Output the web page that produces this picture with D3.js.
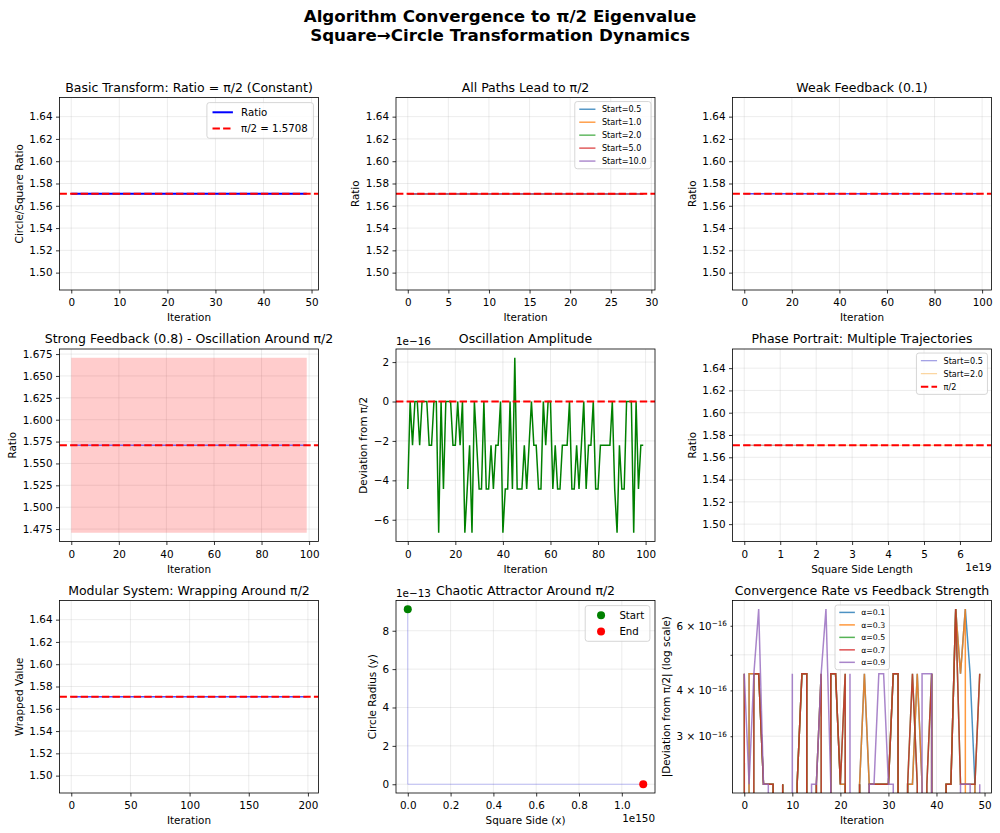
<!DOCTYPE html>
<html>
<head>
<meta charset="utf-8">
<script src="https://cdn.jsdelivr.net/npm/d3@7"></script>
<style>
body { margin: 0; background: #fff; }
svg text { font-family: "DejaVu Sans", sans-serif; fill: #000; }
</style>
</head>
<body>
<svg id="fig" width="1000" height="833"></svg>
<script>
/* ---- data ---- */
var PI_HALF = 1.5707963267948966;

var ratioTicks = [1.50, 1.52, 1.54, 1.56, 1.58, 1.60, 1.62, 1.64];
var strongTicks = [1.475, 1.500, 1.525, 1.550, 1.575, 1.600, 1.625, 1.650, 1.675];

// panel 1
var basicRatio = new Array(50).fill(PI_HALF);
// panel 2
var pathStarts = ["Start=0.5", "Start=1.0", "Start=2.0", "Start=5.0", "Start=10.0"];
var pathRatio = new Array(30).fill(PI_HALF);
// panel 3
var weakRatio = new Array(100).fill(PI_HALF);
// panel 4
var strongRatio = new Array(100).fill(PI_HALF);
var strongLow = new Array(100).fill(1.4708);
var strongHigh = new Array(100).fill(1.6708);
// panel 5 : deviation from pi/2, in units of 1e-16
var oscDev = [
	-4.44, 0, -2.22, 0, 0, -2.22, 0, 0, 0, -2.22,
	-2.22, 0, 0, -6.66, 0, -4.44, 0, 0, 0, -2.22,
	-2.22, 0, -2.22, 0, -6.66, -4.44, -2.22, -6.66, 0, -2.22,
	-4.44, -4.44, 0, -4.44, -4.44, -2.22, -4.44, -2.22, -2.22, 0,
	-6.66, -4.44, -4.44, 0, -4.44, 2.22, -4.44, -4.44, -4.44, -2.22,
	-4.44, -2.22, 0, -2.22, -2.22, -4.44, -4.44, 0, -2.22, 0,
	0, -4.44, -2.22, -4.44, -4.44, -2.22, -2.22, -2.22, 0, -4.44,
	-4.44, -2.22, -4.44, -2.22, 0, -4.44, -2.22, -2.22, 0, -4.44,
	-4.44, -2.22, -2.22, -2.22, -2.22, -2.22, 0, -4.44, -6.66, -2.22,
	-4.44, -4.44, 0, 0, 0, -6.66, 0, -4.44, -2.22, -2.22
];
var oscTicks = [-6, -4, -2, 0, 2];
// panel 6
var phaseLabels = ["Start=0.5", "Start=2.0"];
var phaseSide05 = [0.5, 7.9e5, 1.2e12, 1.9e18, 1.64e19];
var phaseSide20 = [2.0, 3.1e6, 4.9e12, 7.8e18, 6.55e19];
var phaseRatio = [PI_HALF, PI_HALF, PI_HALF, PI_HALF, PI_HALF];
var phaseTicks = [0, 1, 2, 3, 4, 5, 6];
// panel 7
var wrapped = new Array(200).fill(PI_HALF);
// panel 8
var chaosX = [0, 4.1e-3, 2.2e12, 8.7e45, 3.5e98, 1.1e150];
var chaosY = [9.12e-13, 1.5e-20, 3.0e-41, 0, 0, 0];
var chaosXTicks = [0, 0.2, 0.4, 0.6, 0.8, 1.0];
var chaosYTicks = [0, 2, 4, 6, 8];
// panel 9 : |deviation| in units of 1e-16 (0 = exact)
var alphaLabels = ["α=0.1", "α=0.3", "α=0.5", "α=0.7", "α=0.9"];
var conv01 = [0, 4.44, 4.44, 4.44, 2.22, 2.22, 2.22, 0, 2.22, 0, 0, 2.22, 4.44, 4.44, 0, 2.22, 0, 0, 4.44, 4.44, 2.22, 2.22, 0, 0, 2.22, 4.44, 2.22, 2.22, 2.22, 2.22, 2.22, 4.44, 4.44, 0, 2.22, 2.22, 4.44, 2.22, 0, 4.44, 0, 0, 2.22, 2.22, 6.66, 4.44, 6.66, 4.44, 2.22, 0];
var conv03 = [0, 4.44, 4.44, 4.44, 2.22, 2.22, 2.22, 0, 2.22, 0, 0, 2.22, 4.44, 4.44, 0, 2.22, 0, 0, 4.44, 4.44, 2.22, 2.22, 0, 0, 2.22, 4.44, 2.22, 2.22, 2.22, 2.22, 2.22, 4.44, 4.44, 0, 2.22, 2.22, 4.44, 2.22, 0, 4.44, 0, 0, 2.22, 2.22, 6.66, 4.44, 6.66, 0, 2.22, 0];
var conv05 = [4.44, 0, 4.44, 4.44, 2.22, 2.22, 2.22, 0, 2.22, 0, 0, 2.22, 4.44, 4.44, 0, 2.22, 4.44, 0, 4.44, 4.44, 2.22, 4.44, 0, 0, 2.22, 0, 2.22, 2.22, 2.22, 2.22, 2.22, 4.44, 4.44, 0, 2.22, 4.44, 2.22, 0, 2.22, 4.44, 0, 0, 2.22, 2.22, 6.66, 2.22, 2.22, 2.22, 2.22, 4.44];
var conv07 = [4.44, 0, 4.44, 4.44, 2.22, 2.22, 2.22, 0, 2.22, 0, 0, 2.22, 4.44, 4.44, 0, 2.22, 4.44, 0, 4.44, 4.44, 2.22, 4.44, 0, 0, 2.22, 0, 2.22, 2.22, 2.22, 2.22, 2.22, 4.44, 4.44, 0, 2.22, 4.44, 2.22, 0, 2.22, 4.44, 0, 0, 2.22, 2.22, 6.66, 2.22, 2.22, 2.22, 2.22, 4.44];
var conv09 = [4.44, 2.22, 4.44, 6.66, 2.22, 2.22, 0, 0, 0, 0, 4.44, 0, 0, 0, 2.22, 2.22, 4.44, 6.66, 2.22, 0, 0, 0, 4.44, 0, 0, 0, 2.22, 2.22, 4.44, 4.44, 2.22, 2.22, 0, 0, 0, 0, 0, 4.44, 4.44, 4.44, 0, 0, 0, 0, 0, 2.22, 2.22, 2.22, 0, 2.22];
var convTicks = [3, 4, 5, 6];
var convTickLabels = ["3", "4", "", "6"];

/* ---- layout ---- */
var W = 259, H = 192.5;
var colX = [59.5, 396, 732.5];
var rowY = [97.5, 349, 600.5];
var tickFs = 10.4, titleFs = 12.5;
var tab = ["#1f77b4", "#ff7f0e", "#2ca02c", "#d62728", "#9467bd"];
var ratioDom = [1.48441, 1.65719];

var svg = d3.select("#fig");

/* suptitle */
svg.append("text").attr("x", 500).attr("y", 22).attr("text-anchor", "middle")
	.attr("font-size", 16.7).attr("font-weight", "bold").text("Algorithm Convergence to π/2 Eigenvalue");
svg.append("text").attr("x", 500).attr("y", 41).attr("text-anchor", "middle")
	.attr("font-size", 16.7).attr("font-weight", "bold").text("Square→Circle Transformation Dynamics");

/* one subplot: grid, axes, frame, texts */
function panel(col, row, o) {
	var g = svg.append("g").attr("transform", `translate(${colX[col]}, ${rowY[row]})`);
	var x = o.x.range([0, W]);
	var y = o.y.range([H, 0]);
	var id = "clip" + col + row;
	g.append("clipPath").attr("id", id).append("rect").attr("width", W).attr("height", H);

	var grid = g.append("g").attr("stroke", "#b0b0b0").attr("stroke-opacity", 0.3).attr("stroke-width", 0.8);
	grid.selectAll(".gx").data(o.xTicks).join("line").attr("class", "gx")
		.attr("x1", d => x(d)).attr("x2", d => x(d)).attr("y1", 0).attr("y2", H);
	grid.selectAll(".gy").data(o.yTicks).join("line").attr("class", "gy")
		.attr("y1", d => y(d)).attr("y2", d => y(d)).attr("x1", 0).attr("x2", W);

	var plot = g.append("g").attr("clip-path", `url(#${id})`);

	var xa = g.append("g").attr("transform", `translate(0, ${H})`)
		.call(d3.axisBottom(x).tickValues(o.xTicks).tickFormat(o.xFmt || d3.format("d"))
			.tickSize(3.5).tickPadding(5.5).tickSizeOuter(0));
	var ya = g.append("g")
		.call(d3.axisLeft(y).tickValues(o.yTicks).tickFormat(o.yFmt || d3.format(".2f"))
			.tickSize(o.yTickSize || 3.5).tickPadding(3.5).tickSizeOuter(0));
	[xa, ya].forEach(a => {
		a.select(".domain").remove();
		a.attr("font-size", tickFs).attr("font-family", null);
		a.selectAll("line").attr("stroke-width", 0.8);
	});
	if (o.yTickHook) o.yTickHook(ya);

	g.append("rect").attr("width", W).attr("height", H).attr("fill", "none")
		.attr("stroke", "#000").attr("stroke-width", 0.8);

	g.append("text").attr("x", W / 2).attr("y", -6).attr("text-anchor", "middle")
		.attr("font-size", titleFs).text(o.title);
	g.append("text").attr("x", W / 2).attr("y", H + 31).attr("text-anchor", "middle")
		.attr("font-size", tickFs).text(o.xlabel);

	var tw = d3.max(ya.selectAll("text").nodes(), n => n.getComputedTextLength());
	var lx = -(3.5 + (o.yTickSize || 3.5) + tw + 6.5);
	g.append("text").attr("transform", `translate(${lx}, ${H / 2}) rotate(-90)`)
		.attr("text-anchor", "middle").attr("font-size", tickFs).text(o.ylabel);

	if (o.yOffset) g.append("text").attr("x", 0).attr("y", -4).attr("font-size", tickFs).text(o.yOffset);
	if (o.xOffset) g.append("text").attr("x", W).attr("y", H + 29).attr("text-anchor", "end")
		.attr("font-size", tickFs).text(o.xOffset);

	return {g: g, plot: plot, x: x, y: y};
}

function seriesLine(p, values, color, width, opacity) {
	p.plot.append("path").datum(values)
		.attr("d", d3.line().x((d, i) => p.x(i)).y(d => p.y(d)))
		.attr("fill", "none").attr("stroke", color).attr("stroke-width", width)
		.attr("stroke-opacity", opacity == null ? 1 : opacity);
}

function refLine(p, value) {
	var d = p.x.domain();
	p.plot.append("line").attr("x1", p.x(d[0])).attr("x2", p.x(d[1]))
		.attr("y1", p.y(value)).attr("y2", p.y(value))
		.attr("stroke", "#ff0000").attr("stroke-width", 2).attr("stroke-dasharray", "7.4,3.2");
}

function legend(p, items, o) {
	var f = o.fs, padX = 0.55 * f, padY = 0.4 * f, rowH = 1.1 * f, sp = 0.5 * f, hl = 2 * f, htp = 0.8 * f;
	var lg = p.g.append("g");
	var box = lg.append("rect");
	var widths = items.map((it, i) => {
		var cy = padY + rowH / 2 + i * (rowH + sp);
		if (it.dot) {
			lg.append("circle").attr("cx", padX + hl / 2).attr("cy", cy).attr("r", it.r).attr("fill", it.color);
		} else {
			lg.append("line").attr("x1", padX).attr("x2", padX + hl).attr("y1", cy).attr("y2", cy)
				.attr("stroke", it.color).attr("stroke-width", it.w)
				.attr("stroke-opacity", it.op == null ? 1 : it.op)
				.attr("stroke-dasharray", it.dash || null);
		}
		var t = lg.append("text").attr("x", padX + hl + htp).attr("y", cy + 0.36 * f)
			.attr("font-size", f).text(it.label);
		return t.node().getComputedTextLength();
	});
	var bw = 2 * padX + hl + htp + d3.max(widths);
	var bh = 2 * padY + items.length * rowH + (items.length - 1) * sp;
	box.attr("width", bw).attr("height", bh).attr("rx", 2.5).attr("fill", "#fff").attr("fill-opacity", 0.8)
		.attr("stroke", "#cccccc").attr("stroke-width", 0.8);
	var lx = o.left != null ? o.left : W - 0.5 * f - bw;
	var ly = o.top != null ? o.top : 0.5 * f;
	lg.attr("transform", `translate(${lx}, ${ly})`);
}

var dash = "7.4,3.2";

/* 1. Basic transform */
var p1 = panel(0, 0, {
	x: d3.scaleLinear().domain([-2.45, 51.45]), y: d3.scaleLinear().domain(ratioDom),
	xTicks: [0, 10, 20, 30, 40, 50], yTicks: ratioTicks,
	title: "Basic Transform: Ratio = π/2 (Constant)", xlabel: "Iteration", ylabel: "Circle/Square Ratio"
});
seriesLine(p1, basicRatio, "#0000ff", 2);
refLine(p1, PI_HALF);
legend(p1, [
	{label: "Ratio", color: "#0000ff", w: 2},
	{label: "π/2 = 1.5708", color: "#ff0000", w: 2, dash: dash}
], {fs: 10.2});

/* 2. All paths */
var p2 = panel(1, 0, {
	x: d3.scaleLinear().domain([-1.45, 30.45]), y: d3.scaleLinear().domain(ratioDom),
	xTicks: [0, 5, 10, 15, 20, 25, 30], yTicks: ratioTicks,
	title: "All Paths Lead to π/2", xlabel: "Iteration", ylabel: "Ratio"
});
pathStarts.forEach((s, i) => seriesLine(p2, pathRatio, tab[i], 1.5, 0.7));
refLine(p2, PI_HALF);
legend(p2, pathStarts.map((s, i) => ({label: s, color: tab[i], w: 1.5, op: 0.75})), {fs: 8.1});

/* 3. Weak feedback */
var p3 = panel(2, 0, {
	x: d3.scaleLinear().domain([-4.95, 103.95]), y: d3.scaleLinear().domain(ratioDom),
	xTicks: [0, 20, 40, 60, 80, 100], yTicks: ratioTicks,
	title: "Weak Feedback (0.1)", xlabel: "Iteration", ylabel: "Ratio"
});
seriesLine(p3, weakRatio, "#0000ff", 1.5, 0.7);
refLine(p3, PI_HALF);

/* 4. Strong feedback */
var p4 = panel(0, 1, {
	x: d3.scaleLinear().domain([-4.95, 103.95]), y: d3.scaleLinear().domain([1.4608, 1.6808]),
	xTicks: [0, 20, 40, 60, 80, 100], yTicks: strongTicks, yFmt: d3.format(".3f"),
	title: "Strong Feedback (0.8) - Oscillation Around π/2", xlabel: "Iteration", ylabel: "Ratio"
});
p4.plot.append("path").datum(strongRatio)
	.attr("d", d3.area().x((d, i) => p4.x(i)).y0((d, i) => p4.y(strongLow[i])).y1((d, i) => p4.y(strongHigh[i])))
	.attr("fill", "#ff0000").attr("fill-opacity", 0.2);
seriesLine(p4, strongRatio, "#0000ff", 1.5, 0.5);
refLine(p4, PI_HALF);

/* 5. Oscillation amplitude */
var p5 = panel(1, 1, {
	x: d3.scaleLinear().domain([-4.95, 103.95]), y: d3.scaleLinear().domain([-7.104, 2.664]),
	xTicks: [0, 20, 40, 60, 80, 100], yTicks: oscTicks, yFmt: d3.format("d"),
	title: "Oscillation Amplitude", xlabel: "Iteration", ylabel: "Deviation from π/2", yOffset: "1e−16"
});
seriesLine(p5, oscDev, "#008000", 1.5);
refLine(p5, 0);

/* 6. Phase portrait */
var p6 = panel(2, 1, {
	x: d3.scaleLinear().domain([-3.275e18, 6.8775e19]), y: d3.scaleLinear().domain(ratioDom),
	xTicks: phaseTicks.map(t => t * 1e19), xFmt: d => d3.format("d")(Math.round(d / 1e19)), yTicks: ratioTicks,
	title: "Phase Portrait: Multiple Trajectories", xlabel: "Square Side Length", ylabel: "Ratio", xOffset: "1e19"
});
var phaseColors = ["#3a35c8", "#f5a83a"];
[phaseSide05, phaseSide20].forEach((sides, k) => {
	p6.plot.append("path").datum(sides)
		.attr("d", d3.line().x(d => p6.x(d)).y((d, i) => p6.y(phaseRatio[i])))
		.attr("fill", "none").attr("stroke", phaseColors[k]).attr("stroke-width", 1).attr("stroke-opacity", 0.6);
});
refLine(p6, PI_HALF);
legend(p6, [
	{label: phaseLabels[0], color: phaseColors[0], w: 1, op: 0.6},
	{label: phaseLabels[1], color: phaseColors[1], w: 1, op: 0.6},
	{label: "π/2", color: "#ff0000", w: 2, dash: dash}
], {fs: 8.1});

/* 7. Modular system */
var p7 = panel(0, 2, {
	x: d3.scaleLinear().domain([-9.95, 208.95]), y: d3.scaleLinear().domain(ratioDom),
	xTicks: [0, 50, 100, 150, 200], yTicks: ratioTicks,
	title: "Modular System: Wrapping Around π/2", xlabel: "Iteration", ylabel: "Wrapped Value"
});
seriesLine(p7, wrapped, "#0000ff", 1.5, 0.7);
refLine(p7, PI_HALF);

/* 8. Chaotic attractor */
var p8 = panel(1, 2, {
	x: d3.scaleLinear().domain([-0.055e150, 1.155e150]), y: d3.scaleLinear().domain([-0.456e-13, 9.576e-13]),
	xTicks: chaosXTicks.map(t => t * 1e150), xFmt: d => (d / 1e150).toFixed(1),
	yTicks: chaosYTicks.map(t => t * 1e-13), yFmt: d => String(Math.round(d / 1e-13)),
	title: "Chaotic Attractor Around π/2", xlabel: "Square Side (x)", ylabel: "Circle Radius (y)",
	yOffset: "1e−13", xOffset: "1e150"
});
p8.plot.append("path").datum(chaosX)
	.attr("d", d3.line().x(d => p8.x(d)).y((d, i) => p8.y(chaosY[i])))
	.attr("fill", "none").attr("stroke", "#0000ff").attr("stroke-width", 1).attr("stroke-opacity", 0.22);
var last = chaosX.length - 1;
p8.plot.append("circle").attr("cx", p8.x(chaosX[0])).attr("cy", p8.y(chaosY[0])).attr("r", 4).attr("fill", "#008000");
p8.plot.append("circle").attr("cx", p8.x(chaosX[last])).attr("cy", p8.y(chaosY[last])).attr("r", 4).attr("fill", "#ff0000");
legend(p8, [
	{label: "Start", color: "#008000", dot: true, r: 4},
	{label: "End", color: "#ff0000", dot: true, r: 4}
], {fs: 10.2});

/* 9. Convergence rate, log scale */
var p9 = panel(2, 2, {
	x: d3.scaleLinear().domain([-2.45, 51.45]), y: d3.scaleLog().domain([2.101, 7.03]),
	xTicks: [0, 10, 20, 30, 40, 50], yTicks: convTicks, yTickSize: 2,
	yFmt: (d, i) => convTickLabels[i],
	yTickHook: function (ya) {
		ya.selectAll("text").each(function () {
			var t = d3.select(this), s = t.text();
			if (!s) return;
			t.text(null);
			t.append("tspan").text(s + " × 10");
			t.append("tspan").attr("dy", "-0.45em").attr("font-size", "0.7em").text("−16");
		});
	},
	title: "Convergence Rate vs Feedback Strength", xlabel: "Iteration", ylabel: "|Deviation from π/2| (log scale)"
});
var convLine = d3.line().x((d, i) => p9.x(i)).y(d => d > 0 ? p9.y(d) : H + 20000);
[conv01, conv03, conv05, conv07, conv09].forEach((s, k) => {
	p9.plot.append("path").datum(s).attr("d", convLine)
		.attr("fill", "none").attr("stroke", tab[k]).attr("stroke-width", 1.5).attr("stroke-opacity", 0.8);
});
legend(p9, alphaLabels.map((s, i) => ({label: s, color: tab[i], w: 1.5, op: 0.8})), {fs: 7.8, left: 102.5, top: 4.5});
</script>
</body>
</html>
